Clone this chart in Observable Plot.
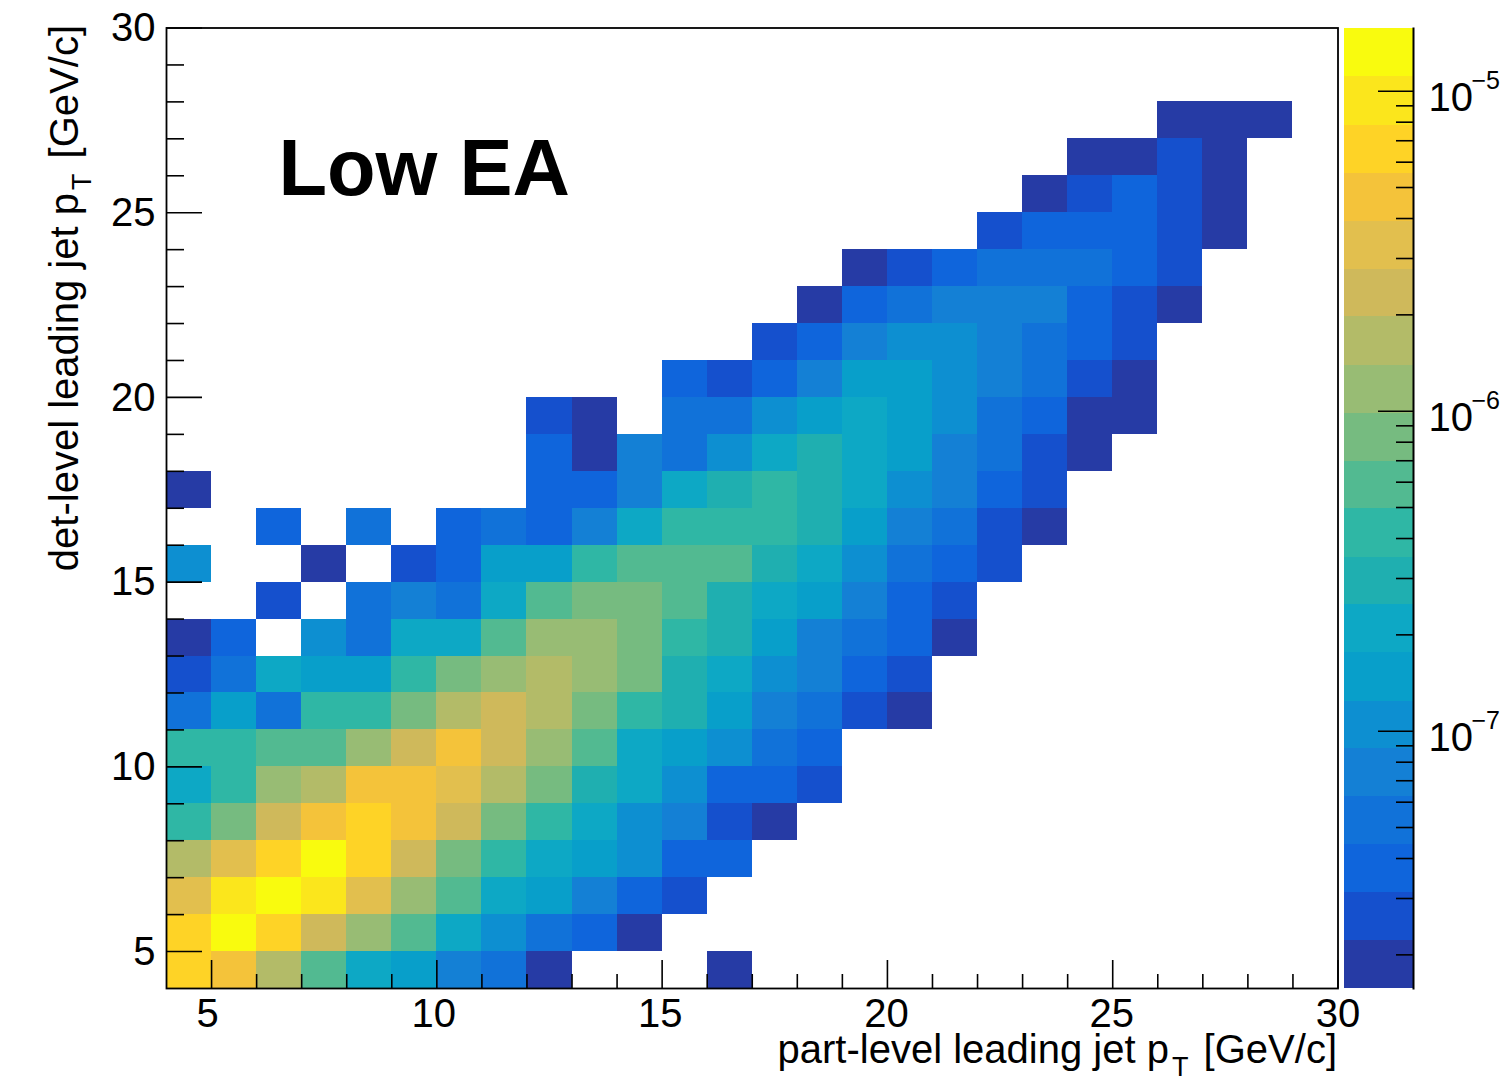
<!DOCTYPE html>
<html>
<head>
<meta charset="utf-8">
<script src="https://cdn.jsdelivr.net/npm/d3@7"></script>
<script src="https://cdn.jsdelivr.net/npm/@observablehq/plot@0.6"></script>
<style>
html,body{margin:0;padding:0;background:#fff;}
#wrap{position:relative;width:1505px;height:1080px;overflow:hidden;}
#wrap svg{position:absolute;top:0;max-width:none;background:transparent;overflow:visible;}
</style>
</head>
<body>
<div id="wrap"></div>
<script>
const n = null;
// palette step of every filled bin, lowest to highest
const palette = ["#263ba5","#1550cd","#0f65dc","#1172d9","#1480d5","#0d8fd1","#089fca","#0da8c5","#1fafb0","#2fb7a5",
                 "#52ba91","#76bb80","#98bc74","#b3bb68","#cfb95b","#e2bf4e","#f4c33a","#fed326","#fbe61c","#f9fb0e"];
// colour-bar contour edges
const contourEdges = [1.57e-8,2.22e-8,3.13e-8,4.42e-8,6.24e-8,8.81e-8,1.24e-7,1.76e-7,2.48e-7,3.50e-7,4.95e-7,
                      6.98e-7,9.86e-7,1.39e-6,1.97e-6,2.78e-6,3.92e-6,5.54e-6,7.82e-6,1.11e-5,1.57e-5];

const detLow    = [4,5,6,7,8,9,10,11,12,13,14,15,16,17,18,19,20,21,22,23,24,25,26,27];
const partStart = [4,4,4,4,4,4,4,4,4,4,4,4,4,4,12,12,15,17,18,19,22,23,24,26];
const rowLevels = [
  [17,16,13,10,7,6,4,3,0,n,n,n,0],
  [17,19,17,14,12,10,7,5,3,2,0],
  [15,18,19,18,15,12,10,7,6,4,2,1],
  [13,15,17,19,17,14,11,9,7,6,5,2,2],
  [9,11,14,16,17,16,14,11,9,7,5,4,1,0],
  [7,9,12,13,16,16,15,13,11,8,7,5,2,2,1],
  [9,9,10,10,12,14,16,14,12,10,7,6,5,3,2],
  [3,6,3,9,9,11,13,14,13,11,9,8,6,4,3,1,0],
  [1,3,7,6,6,9,11,12,13,12,11,8,7,5,4,2,1],
  [0,2,n,5,3,7,7,10,12,12,11,9,8,6,4,3,2,0],
  [n,n,1,n,3,4,3,7,10,11,11,10,8,7,6,4,2,1],
  [5,n,n,0,n,1,2,6,6,9,10,10,10,8,7,5,3,2,1],
  [n,n,2,n,3,n,2,3,2,4,7,9,9,9,8,6,4,3,1,0],
  [0,n,n,n,n,n,n,n,2,2,4,7,8,9,8,7,5,4,2,1],
  [2,0,4,3,5,7,8,7,6,4,3,1,0],
  [1,0,n,3,3,5,6,7,6,5,3,2,0,0],
  [2,1,2,4,6,6,5,4,3,1,0],
  [1,2,4,5,5,4,3,2,1],
  [0,2,3,4,4,4,2,1,0],
  [0,1,2,3,3,3,2,1],
  [1,2,2,2,1,0],
  [0,1,2,1,0],
  [0,0,1,0],
  [0,0,0]
];

const xMajor = [5,10,15,20,25,30];
const xLabelShift = [-4,-3,-2,-1,-1,0];
const xMinor = [6,7,8,9,11,12,13,14,16,17,18,19,21,22,23,24,26,27,28,29];
const yMajor = [5,10,15,20,25,30];
const yMinor = [6,7,8,9,11,12,13,14,16,17,18,19,21,22,23,24,26,27,28,29];
const barMajor = [1e-7,1e-6,1e-5];
const barExponents = ["\u22127","\u22126","\u22125"];
const barMinor = [2e-8,3e-8,4e-8,5e-8,6e-8,7e-8,8e-8,9e-8,
                  2e-7,3e-7,4e-7,5e-7,6e-7,7e-7,8e-7,9e-7,
                  2e-6,3e-6,4e-6,5e-6,6e-6,7e-6,8e-6,9e-6];

const cells = rowLevels.flatMap((row, r) => row.map((level, c) => ({
  x1: partStart[r] + c, x2: partStart[r] + c + 1, y1: detLow[r], y2: detLow[r] + 1, level
})).filter(d => d.level !== null));

const bands = palette.map((_, i) => ({lo: contourEdges[i], hi: contourEdges[i + 1], level: i}));
const levelDomain = palette.map((_, i) => i);
const FONT = "Liberation Sans, Arial, Helvetica, sans-serif";
const TICK = {strokeWidth: 1.6, fill: "none", label: null};

const main = Plot.plot({
  width: 1338, height: 1080,
  marginLeft: 166, marginRight: 0.5, marginTop: 27.5, marginBottom: 92,
  style: {fontFamily: FONT, overflow: "visible", background: "transparent", color: "#000"},
  x: {domain: [4, 30]},
  y: {domain: [4, 30]},
  color: {type: "ordinal", domain: levelDomain, range: palette},
  marks: [
    Plot.rect(cells, {x1: "x1", x2: "x2", y1: "y1", y2: "y2", fill: "level", shapeRendering: "crispEdges"}),
    Plot.axisX({ticks: xMinor, tickSize: -14, ...TICK}),
    Plot.axisX({ticks: xMajor, tickSize: -28, ...TICK}),
    Plot.axisY({ticks: yMinor, tickSize: -18, ...TICK}),
    Plot.axisY({ticks: yMajor, tickSize: -36, ...TICK}),
    ...xMajor.map((t, i) => Plot.axisX({ticks: [t], dx: xLabelShift[i], tickSize: 0, tickPadding: 10, label: null,
      fontSize: 40, stroke: null, tickFormat: d => String(d)})),
    Plot.axisY({ticks: yMajor, tickSize: 0, tickPadding: 11, dy: 0.5, label: null, fontSize: 40, stroke: null,
      tickFormat: d => String(d)}),
    Plot.frame({stroke: "#000", strokeWidth: 1.8}),
    Plot.text(["Low EA"], {frameAnchor: "top-left", dx: 112, dy: 167, text: d => d, lineAnchor: "bottom",
      textAnchor: "start", fontSize: 79.5, fontWeight: "bold", fill: "#000"})
  ]
});
main.style.left = "0px";

function axisTitle(svg, attrs, before, after) {
  const t = d3.select(svg).append("text")
    .attr("font-family", FONT).attr("font-size", 40).attr("fill", "#000")
    .attr("text-anchor", "end").style("white-space", "pre");
  Object.entries(attrs).forEach(([k, v]) => t.attr(k, v));
  t.append("tspan").text(before);
  t.append("tspan").attr("font-size", 27).attr("dx", 3).attr("dy", 13).text("T");
  t.append("tspan").attr("dx", -7).attr("dy", -13).text(after);
}
axisTitle(main, {x: 1337, y: 1063}, "part-level leading jet p", "  [GeV/c]");
axisTitle(main, {transform: "translate(78,25) rotate(-90)"}, "det-level leading jet p", "  [GeV/c]");

const bar = Plot.plot({
  width: 165, height: 1080,
  marginLeft: 4, marginRight: 92, marginTop: 28, marginBottom: 92,
  style: {fontFamily: FONT, overflow: "visible", background: "transparent", color: "#000"},
  x: {domain: [0, 1], axis: null},
  y: {type: "log", domain: [contourEdges[0], contourEdges[20]], axis: null},
  color: {type: "ordinal", domain: levelDomain, range: palette},
  marks: [
    Plot.rect(bands, {y1: "lo", y2: "hi", fill: "level", shapeRendering: "crispEdges"}),
    Plot.axisY({anchor: "right", ticks: barMinor, tickSize: -18, ...TICK}),
    Plot.axisY({anchor: "right", ticks: barMajor, tickSize: -36, ...TICK}),
    Plot.frame({anchor: "right", stroke: "#000", strokeWidth: 2}),
    Plot.text(barMajor, {y: d => d, text: () => "10", frameAnchor: "right", textAnchor: "start",
      dx: 15, dy: 20, lineAnchor: "bottom", fontSize: 40, fill: "#000"}),
    Plot.text(barMajor, {y: d => d, text: (d, i) => barExponents[i], frameAnchor: "right", textAnchor: "start",
      dx: 58, dy: -2, lineAnchor: "bottom", fontSize: 25, fill: "#000"})
  ]
});
bar.style.left = "1340px";

const wrap = document.getElementById("wrap");
wrap.appendChild(main);
wrap.appendChild(bar);
</script>
</body>
</html>
